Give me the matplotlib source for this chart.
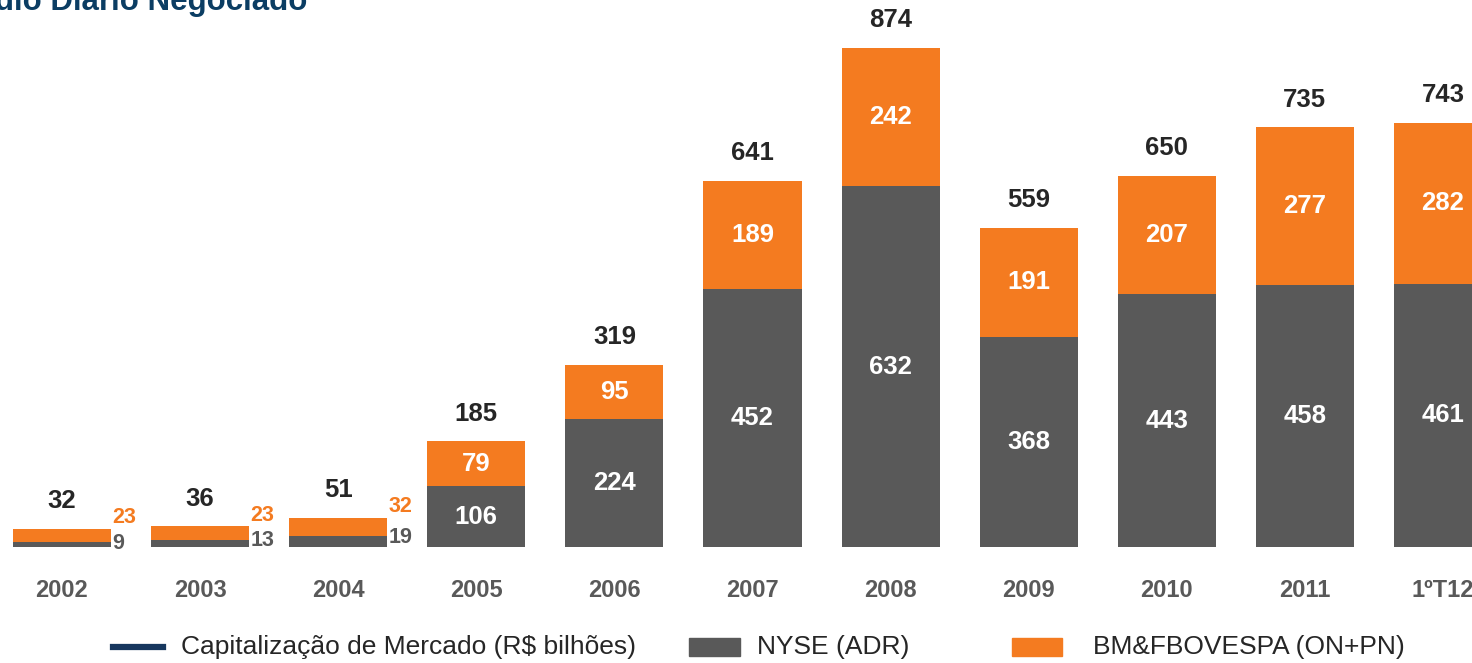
import matplotlib
matplotlib.use("Agg")
import matplotlib.pyplot as plt
from matplotlib.lines import Line2D
from matplotlib.patches import Rectangle

plt.rcParams['font.family'] = ['Liberation Sans', 'DejaVu Sans']

# Volume médio diário negociado (R$ milhões)
categories = ["2002", "2003", "2004", "2005", "2006", "2007",
              "2008", "2009", "2010", "2011", "1ºT12"]
nyse_adr = [9, 13, 19, 106, 224, 452, 632, 368, 443, 458, 461]
bmf_bovespa = [23, 23, 32, 79, 95, 189, 242, 191, 207, 277, 282]
totals = [32, 36, 51, 185, 319, 641, 874, 559, 650, 735, 743]

GRAY = "#595959"
ORANGE = "#F47B20"
DARK = "#262626"
NAVY = "#17375E"
TITLE = "#0B3D63"

W, H = 1472, 663
fig = plt.figure(figsize=(W / 100, H / 100), dpi=100)

base_px = 547          # baseline distance from top
px_per_unit = 0.571
ax = fig.add_axes([0, (H - base_px) / H, 1, base_px / H])
ax.set_ylim(0, base_px / px_per_unit)
step = 138.1
ax.set_xlim(-62 / step, (W - 62) / step)

x = list(range(len(categories)))
width = 0.71
ax.bar(x, nyse_adr, width, color=GRAY, zorder=2)
ax.bar(x, bmf_bovespa, width, bottom=nyse_adr, color=ORANGE, zorder=2)

for i in x:
    g, o, t = nyse_adr[i], bmf_bovespa[i], totals[i]
    ax.annotate(str(t), (i, t), xytext=(0, 20), textcoords="offset points",
                ha="center", va="center", fontsize=18.5, fontweight="bold",
                color=DARK)
    if t < 100:
        xr = i + width / 2
        ax.annotate(str(o), (xr, t), xytext=(1, 8), textcoords="offset points",
                    ha="left", va="center", fontsize=15.5, fontweight="bold",
                    color=ORANGE)
        ax.annotate(str(g), (xr, g), xytext=(1, -1), textcoords="offset points",
                    ha="left", va="center", fontsize=15.5, fontweight="bold",
                    color=GRAY)
    else:
        ax.text(i, g / 2, str(g), ha="center", va="center", fontsize=18.5,
                fontweight="bold", color="white", zorder=3)
        ax.text(i, g + o / 2, str(o), ha="center", va="center", fontsize=18.5,
                fontweight="bold", color="white", zorder=3)

ax.set_xticks(x)
ax.set_xticklabels(categories, fontsize=17, fontweight="bold", color=GRAY)
ax.tick_params(axis="x", length=0, pad=23)
ax.tick_params(axis="y", left=False, labelleft=False)
for s in ax.spines.values():
    s.set_visible(False)
ax.patch.set_alpha(0)

# Title (running past the top-left corner of the canvas)
fig.text(307 / W, (H - 10) / H, "Volume Médio Diário Negociado", ha="right",
         va="baseline", fontsize=22.5, fontweight="bold", color=TITLE)

# Legend row
ly = (H - 647) / H
leg_font = dict(fontsize=19, color=DARK, va="center", ha="left")
fig.add_artist(Line2D([113 / W, 163 / W], [ly, ly], color=NAVY, lw=4.5,
                      transform=fig.transFigure))
fig.text(181 / W, ly, "Capitalização de Mercado (R$ bilhões)", **leg_font)
fig.add_artist(Rectangle((689 / W, (H - 656) / H), 51 / W, 18 / H,
                         color=GRAY, transform=fig.transFigure))
fig.text(757 / W, ly, "NYSE (ADR)", **leg_font)
fig.add_artist(Rectangle((1012 / W, (H - 656) / H), 50 / W, 18 / H,
                         color=ORANGE, transform=fig.transFigure))
fig.text(1093 / W, ly, "BM&FBOVESPA (ON+PN)", **leg_font)

fig.savefig("out.png", dpi=100, facecolor="white")
